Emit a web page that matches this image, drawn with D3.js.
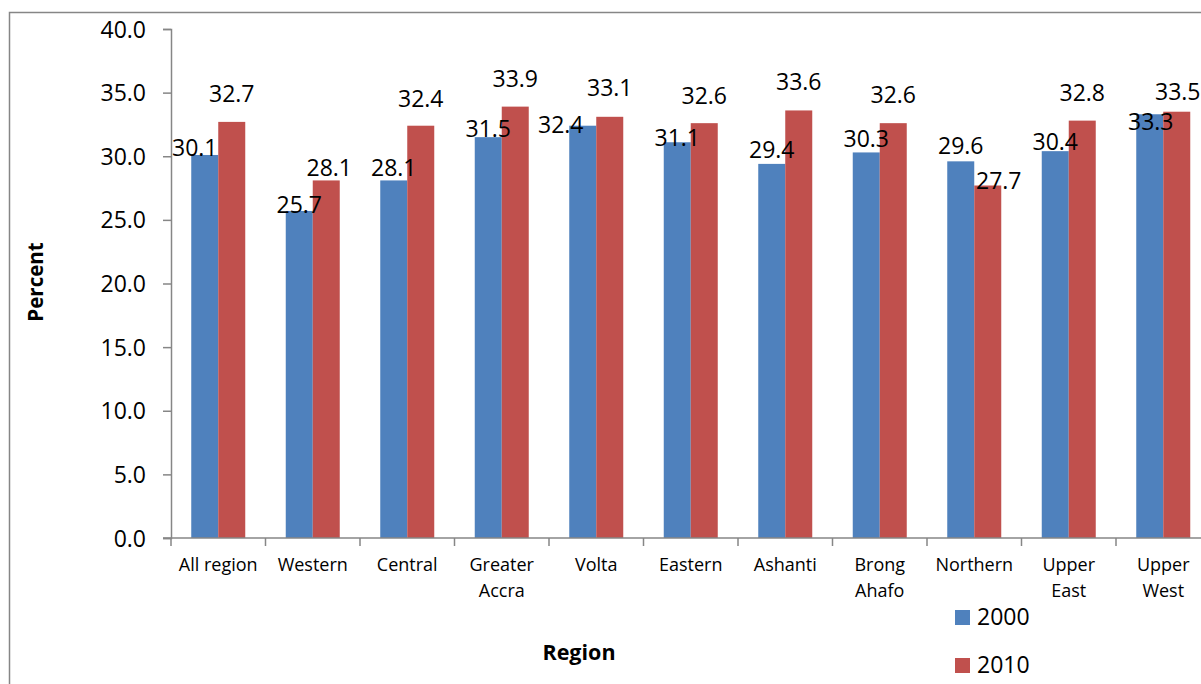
<!DOCTYPE html>
<html><head><meta charset="utf-8">
<script src="https://cdn.jsdelivr.net/npm/d3@7"></script>
<style>
html,body{margin:0;padding:0;background:#fff;}
svg{display:block;}
text{font-family:"Open Sans",sans-serif;fill:#000;}
</style></head>
<body>
<svg id="chart" width="1201" height="684"></svg>
<script>
const categories = [["All region"],["Western"],["Central"],["Greater","Accra"],["Volta"],["Eastern"],["Ashanti"],["Brong","Ahafo"],["Northern"],["Upper","East"],["Upper","West"]];
const seriesNames = ["2000","2010"];
const values2000 = [30.1,25.7,28.1,31.5,32.4,31.1,29.4,30.3,29.6,30.4,33.3];
const values2010 = [32.7,28.1,32.4,33.9,33.1,32.6,33.6,32.6,27.7,32.8,33.5];
const yTicks = [0,5,10,15,20,25,30,35,40];
const colors = ["#4F81BD","#C0504D"];
// label nudges (styling): [dx, dy] relative to bar centre / bar top
const nudge2000 = [[-10,1],[0,2],[0,-4],[0,0],[-22,7],[0,4],[0,-6],[0,-5],[0,-7],[0,-1],[1,16]];
const nudge2010 = [[0,-20],[3,-4],[0,-19],[0,-20],[0,-21],[0,-19],[0,-20],[0,-20],[11,3],[0,-20],[1,-12]];

const svg = d3.select("#chart");
const L = 171, B = 538, T = 29, R = 1210.5;

// outer frame
svg.append("rect").attr("x",9.5).attr("y",12.5).attr("width",1250).attr("height",720)
  .attr("fill","none").attr("stroke","#868686").attr("stroke-width",1.5);

const x = d3.scaleBand().domain(categories.map(c=>c.join(" "))).range([L,R]).paddingInner(0).paddingOuter(0);
const xs = d3.scaleBand().domain(seriesNames).range([20.25, x.bandwidth()-20.25]);
const y = d3.scaleLinear().domain([0,40]).range([B,T]);

// y axis
const yAxis = svg.append("g").attr("transform",`translate(${L},0)`)
  .call(d3.axisLeft(y).tickValues(yTicks).tickSize(8).tickPadding(17).tickFormat(d3.format(".1f")));
yAxis.select(".domain").attr("stroke","#868686").attr("stroke-width",1.5);
yAxis.selectAll(".tick line").attr("stroke","#868686").attr("stroke-width",1.5);
yAxis.selectAll(".tick text").attr("font-size",23).attr("dy","0.35em")
  .style("font-family","'Open Sans',sans-serif").attr("fill","#000");

// bars
const data = [values2000, values2010];
const nudges = [nudge2000, nudge2010];
seriesNames.forEach((s,si)=>{
  const g = svg.append("g");
  g.selectAll("rect").data(data[si]).join("rect")
    .attr("x",(d,i)=>x(categories[i].join(" "))+xs(s))
    .attr("y",d=>y(d))
    .attr("width",xs.bandwidth())
    .attr("height",d=>B-y(d))
    .attr("fill",colors[si]);
});

// x axis
const xAxisG = svg.append("g");
xAxisG.append("line").attr("x1",L-8).attr("x2",1201).attr("y1",B).attr("y2",B)
  .attr("stroke","#868686").attr("stroke-width",1.5);
const bounds = categories.map((c,i)=>x(c.join(" "))).concat([R]);
xAxisG.selectAll("line.tk").data(bounds).join("line").attr("class","tk")
  .attr("x1",d=>d).attr("x2",d=>d).attr("y1",B).attr("y2",B+8)
  .attr("stroke","#868686").attr("stroke-width",1.5);
const catG = svg.append("g");
categories.forEach((c)=>{
  const cx = x(c.join(" ")) + x.bandwidth()/2;
  const t = catG.append("text").attr("text-anchor","middle").attr("font-size",18)
    .attr("x",cx).attr("y",571);
  c.forEach((line,li)=>{
    t.append("tspan").attr("x",cx).attr("y",571+li*26).text(line);
  });
});

// data labels
seriesNames.forEach((s,si)=>{
  svg.append("g").selectAll("text").data(data[si]).join("text")
    .attr("text-anchor","middle").attr("font-size",23)
    .attr("x",(d,i)=>x(categories[i].join(" "))+xs(s)+xs.bandwidth()/2+nudges[si][i][0])
    .attr("y",(d,i)=>y(d)+nudges[si][i][1])
    .text(d=>d3.format(".1f")(d));
});

// axis titles
svg.append("text").attr("text-anchor","middle").attr("font-size",21.5).attr("font-weight","bold")
  .attr("x",579).attr("y",660).text("Region");
svg.append("text").attr("text-anchor","middle").attr("font-size",20.5).attr("font-weight","bold")
  .attr("transform","translate(43,282) rotate(-90)").text("Percent");

// legend
const lg = svg.append("g");
seriesNames.forEach((s,si)=>{
  lg.append("rect").attr("x",955).attr("y",610+si*48).attr("width",15).attr("height",15).attr("fill",colors[si]);
  lg.append("text").attr("x",977).attr("y",625+si*48).attr("font-size",23).text(s);
});
</script>
</body></html>
